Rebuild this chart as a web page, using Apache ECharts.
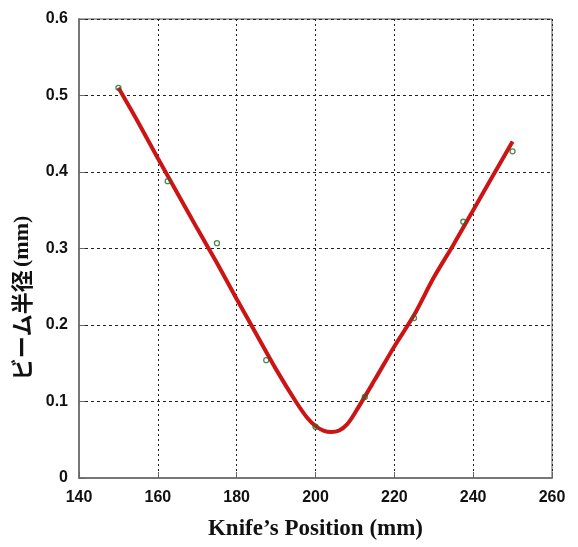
<!DOCTYPE html>
<html>
<head>
<meta charset="utf-8">
<script src="https://cdn.jsdelivr.net/npm/echarts@6/dist/echarts.min.js"></script>
<style>
  html, body { margin: 0; padding: 0; background: #fff; }
  #chart { width: 578px; height: 547px; }
</style>
</head>
<body>
<div id="chart"></div>
<script>
// measured points (knife position, beam radius)
const measX = [150, 162.5, 175, 187.5, 200, 212.5, 225, 237.5, 250];
const measY = [0.51, 0.388, 0.307, 0.154, 0.067, 0.106, 0.209, 0.335, 0.427];

// fitted curve
const fitX = [150, 155, 160, 165, 170, 175, 180, 185, 190, 195, 198, 200, 202, 204, 206, 208, 210, 215, 220, 225, 230, 235, 240, 245, 250];
const fitY = [0.510, 0.465, 0.418, 0.372, 0.326, 0.281, 0.234, 0.188, 0.142, 0.100, 0.078, 0.068, 0.062, 0.060, 0.062, 0.070, 0.085, 0.128, 0.172, 0.213, 0.262, 0.305, 0.350, 0.395, 0.440];

const chart = echarts.init(document.getElementById('chart'));

const tickFont = { fontFamily: 'Liberation Sans', fontWeight: 'bold', fontSize: 16, color: '#111' };

chart.setOption({
  animation: false,
  grid: {
    left: 79, right: 26, top: 19, bottom: 69,
    outerBoundsMode: 'none',
    show: true, borderColor: '#555', borderWidth: 1
  },
  xAxis: {
    type: 'value', min: 140, max: 260, interval: 20,
    axisLine: { show: true, lineStyle: { color: '#777', width: 2 } },
    axisTick: { show: true, inside: true, length: 6, lineStyle: { color: '#666' } },
    axisLabel: Object.assign({ margin: 12 }, tickFont),
    splitLine: { show: true, lineStyle: { color: '#222', type: [2, 3], width: 1 } },
    name: 'Knife’s Position (mm)',
    nameLocation: 'middle',
    nameGap: 40,
    nameTextStyle: { fontFamily: 'Liberation Serif', fontWeight: 'bold', fontSize: 23, color: '#111' }
  },
  yAxis: {
    type: 'value', min: 0, max: 0.6, interval: 0.1,
    axisLine: { show: true, lineStyle: { color: '#777', width: 2 } },
    axisTick: { show: true, inside: true, length: 6, lineStyle: { color: '#666' } },
    axisLabel: Object.assign({ margin: 11, formatter: v => v === 0 ? '0' : v.toFixed(1) }, tickFont),
    splitLine: { show: true, lineStyle: { color: '#222', type: [3, 3], width: 1 } }
  },
  graphic: [{
    type: 'text',
    x: 22, y: 298,
    rotation: Math.PI / 2,
    style: {
      text: '{a|ビーム半径} {b|(mm)}',
      align: 'center',
      verticalAlign: 'middle',
      rich: {
        a: { fontFamily: 'Noto Sans CJK JP', fontWeight: 'bold', fontSize: 22, fill: '#111' },
        b: { fontFamily: 'Liberation Serif', fontWeight: 'bold', fontSize: 22, fill: '#111' }
      }
    }
  }],
  series: [
    {
      type: 'line',
      data: fitX.map((x, i) => [x, fitY[i]]),
      smooth: 0.3,
      showSymbol: false,
      lineStyle: { color: '#cc1414', width: 4 },
      z: 2
    },
    {
      type: 'scatter',
      data: measX.map((x, i) => [x, measY[i]]),
      symbol: 'circle',
      symbolSize: 5,
      itemStyle: { color: 'rgba(255,255,255,0)', borderColor: '#1f6b2a', borderWidth: 1.3 },
      z: 3
    }
  ]
});
</script>
</body>
</html>
